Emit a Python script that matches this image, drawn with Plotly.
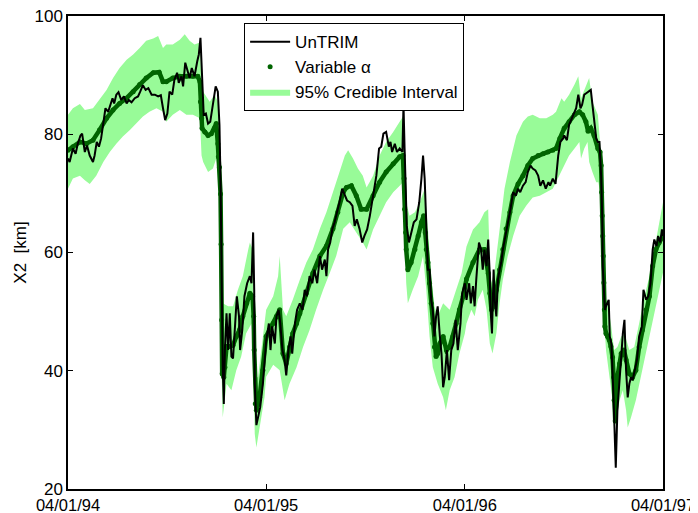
import pandas as pd
import plotly.graph_objects as go

# days counted from 04/01/94
untrim_day = [0, 3, 9, 14, 18, 23, 26, 31, 35, 40, 46, 49, 53, 57, 61, 65, 69, 74, 78, 82, 85, 89, 93, 98, 103, 108, 112, 117, 123, 129, 133, 138, 143, 148, 154, 160, 166, 171, 175, 179, 183, 187, 192, 196, 201, 204, 209, 212, 216, 220, 224, 228, 233, 238, 241, 244, 247, 250, 254, 258, 262, 267, 272, 276, 279, 281, 282, 284, 285, 287, 289, 292, 295, 298, 301, 304, 307, 311, 315, 317, 321, 325, 330, 335, 338, 341, 343, 344, 347, 350, 354, 359, 365, 370, 373, 376, 381, 384, 388, 391, 395, 399, 402, 406, 410, 413, 418, 422, 427, 432, 436, 440, 445, 450, 454, 459, 464, 468, 473, 476, 479, 483, 487, 491, 496, 500, 505, 510, 514, 519, 524, 528, 532, 537, 542, 546, 551, 556, 562, 568, 573, 577, 581, 586, 591, 594, 597, 602, 606, 611, 616, 618, 620, 622, 624, 628, 632, 637, 642, 647, 651, 654, 657, 660, 663, 666, 669, 672, 675, 678, 681, 685, 688, 691, 694, 698, 702, 706, 710, 714, 718, 723, 726, 731, 734, 739, 742, 746, 749, 752, 757, 761, 764, 767, 771, 774, 777, 778, 781, 784, 786, 789, 792, 795, 798, 801, 806, 810, 815, 820, 825, 829, 833, 838, 843, 847, 852, 856, 861, 866, 870, 875, 880, 885, 888, 893, 898, 903, 907, 912, 914, 919, 923, 928, 933, 936, 940, 944, 947, 951, 954, 958, 963, 966, 969, 973, 976, 979, 982, 984, 985, 987, 989, 993, 996, 998, 1001, 1005, 1008, 1009, 1012, 1016, 1019, 1022, 1025, 1028, 1031, 1034, 1037, 1040, 1043, 1048, 1052, 1057, 1060, 1065, 1069, 1073, 1077, 1080, 1084, 1087, 1091, 1094, 1096]
untrim_x2 = [75.9, 75.3, 77.6, 76.7, 78.4, 79.8, 80.1, 77.0, 78.1, 76.4, 75.3, 76.4, 78.7, 77.9, 79.3, 81.6, 84.4, 83.8, 85.0, 86.1, 85.2, 86.7, 87.1, 85.8, 86.4, 85.2, 85.8, 85.4, 86.1, 86.4, 87.2, 88.3, 87.5, 87.8, 86.7, 86.7, 86.4, 86.6, 84.4, 82.4, 83.5, 87.2, 86.7, 89.2, 90.4, 88.7, 89.8, 88.1, 92.1, 90.6, 89.5, 91.2, 89.8, 92.3, 93.5, 96.3, 88.4, 83.3, 83.5, 81.8, 82.1, 85.0, 88.1, 87.2, 81.6, 71.9, 63.4, 49.2, 40.6, 34.4, 43.5, 49.7, 43.5, 49.7, 42.4, 42.1, 46.3, 52.6, 49.2, 43.5, 46.9, 52.6, 54.8, 56.0, 54.8, 63.4, 53.7, 37.8, 30.8, 32.4, 33.8, 37.8, 45.0, 48.0, 43.5, 47.5, 44.6, 49.2, 50.3, 48.0, 43.5, 41.8, 39.2, 43.5, 45.8, 42.9, 48.0, 50.3, 51.4, 50.3, 53.7, 52.6, 56.0, 54.8, 57.1, 54.8, 59.4, 57.1, 58.8, 56.0, 60.5, 61.7, 64.0, 65.1, 66.8, 68.5, 70.8, 69.6, 68.8, 68.5, 67.9, 64.5, 65.6, 64.0, 61.7, 62.8, 63.9, 66.2, 69.6, 73.0, 77.6, 77.9, 80.1, 80.4, 77.9, 78.7, 77.0, 78.4, 77.0, 77.6, 77.0, 85.0, 77.6, 69.0, 64.5, 61.7, 63.4, 65.1, 65.6, 68.5, 72.5, 76.4, 72.5, 62.8, 57.1, 57.1, 52.0, 50.3, 45.8, 49.2, 50.9, 45.8, 42.9, 37.2, 38.9, 43.5, 38.4, 43.5, 44.6, 48.6, 43.5, 48.0, 53.1, 54.8, 52.0, 54.8, 51.4, 54.3, 50.9, 55.4, 61.7, 60.5, 57.1, 60.5, 57.7, 62.2, 56.0, 50.9, 46.3, 57.1, 52.0, 49.2, 55.4, 57.1, 58.3, 60.5, 62.8, 65.1, 67.3, 70.2, 69.6, 70.8, 70.2, 71.3, 71.9, 73.6, 74.7, 74.2, 73.9, 73.0, 71.3, 72.2, 70.8, 71.9, 71.3, 72.5, 71.6, 76.4, 78.7, 79.3, 79.8, 79.0, 81.6, 82.7, 83.8, 84.4, 86.7, 84.4, 85.0, 86.7, 86.9, 87.2, 87.5, 85.0, 82.1, 79.3, 78.7, 78.7, 73.0, 66.2, 57.7, 52.6, 50.3, 51.4, 52.0, 45.8, 44.6, 35.0, 27.6, 23.6, 33.3, 37.8, 42.3, 46.3, 48.6, 40.1, 35.5, 37.8, 38.9, 38.4, 39.5, 41.8, 45.8, 47.5, 53.7, 52.0, 52.6, 54.8, 60.5, 62.2, 61.1, 62.8, 61.7, 63.9, 62.8]

alpha_day = [0, 9, 22, 34, 46, 58, 71, 83, 95, 108, 120, 132, 144, 157, 168, 175, 181, 193, 206, 218, 230, 239, 243, 244, 246, 247, 252, 258, 264, 270, 273, 276, 277, 279, 281, 282, 283, 284, 287, 289, 292, 298, 304, 310, 316, 322, 329, 335, 340, 342, 343, 345, 347, 353, 359, 365, 371, 378, 384, 390, 396, 402, 408, 414, 421, 427, 439, 451, 464, 476, 488, 497, 507, 513, 522, 531, 540, 550, 562, 574, 586, 599, 611, 617, 619, 620, 622, 623, 626, 632, 639, 645, 651, 655, 658, 660, 663, 666, 669, 672, 675, 678, 681, 685, 691, 697, 703, 709, 715, 721, 728, 734, 746, 758, 767, 774, 777, 780, 784, 789, 795, 801, 807, 814, 820, 829, 838, 847, 856, 866, 875, 884, 893, 899, 906, 914, 923, 933, 942, 948, 954, 958, 963, 969, 976, 980, 982, 983, 984, 985, 986, 987, 988, 989, 991, 994, 997, 1000, 1003, 1005, 1006, 1008, 1010, 1012, 1016, 1019, 1024, 1028, 1034, 1040, 1046, 1052, 1058, 1065, 1071, 1077, 1083, 1089, 1096]
alpha_x2 = [77.3, 77.9, 78.7, 78.4, 79.0, 80.7, 82.7, 84.1, 85.2, 86.1, 87.2, 88.4, 89.5, 90.4, 90.5, 88.9, 88.9, 89.5, 89.8, 89.8, 89.8, 89.8, 88.9, 85.5, 82.7, 81.0, 80.4, 79.8, 80.1, 81.0, 81.8, 78.4, 76.2, 74.4, 69.9, 61.4, 48.6, 39.5, 38.9, 40.6, 44.1, 44.1, 44.3, 45.8, 46.9, 49.2, 51.4, 53.1, 52.6, 49.2, 43.5, 34.4, 33.3, 35.5, 40.1, 45.8, 46.9, 48.0, 49.2, 50.3, 42.9, 41.2, 44.0, 46.3, 48.0, 49.7, 53.1, 56.5, 59.4, 61.1, 64.0, 66.8, 70.2, 71.0, 71.3, 69.6, 67.3, 67.3, 69.6, 71.9, 73.6, 75.0, 76.2, 76.4, 72.5, 67.3, 63.4, 60.5, 57.1, 58.3, 60.5, 62.8, 65.1, 66.2, 63.4, 60.5, 58.3, 54.8, 51.4, 48.0, 44.0, 42.4, 42.9, 44.6, 45.8, 43.5, 44.0, 45.8, 48.0, 50.3, 52.6, 55.5, 58.3, 60.5, 60.5, 56.5, 53.1, 50.3, 50.9, 53.7, 57.1, 60.5, 64.0, 66.8, 69.6, 71.6, 73.0, 74.7, 75.9, 76.4, 76.7, 77.0, 77.3, 77.6, 79.3, 81.0, 82.1, 83.3, 83.8, 83.3, 82.1, 80.5, 81.0, 79.8, 77.6, 77.0, 74.7, 70.2, 66.2, 62.8, 59.4, 54.9, 50.3, 47.5, 46.3, 45.8, 45.2, 44.1, 42.3, 38.9, 35.0, 31.5, 35.0, 38.9, 41.2, 42.9, 43.5, 41.8, 39.5, 38.9, 40.1, 44.0, 46.9, 50.3, 52.6, 57.7, 60.5, 61.7, 62.8]

upper_day = [0, 9, 22, 31, 46, 58, 71, 83, 95, 108, 120, 132, 144, 157, 166, 175, 181, 193, 206, 215, 224, 233, 243, 246, 249, 261, 270, 276, 279, 282, 285, 295, 304, 313, 322, 332, 335, 340, 342, 344, 350, 359, 365, 378, 387, 390, 393, 396, 402, 414, 427, 439, 451, 464, 476, 488, 500, 510, 516, 525, 534, 543, 550, 562, 574, 586, 599, 611, 617, 620, 623, 629, 639, 648, 657, 663, 669, 675, 681, 691, 703, 715, 725, 734, 746, 758, 767, 774, 777, 780, 786, 795, 804, 814, 826, 838, 847, 856, 869, 881, 893, 899, 909, 914, 923, 933, 940, 945, 950, 956, 960, 966, 973, 976, 979, 982, 985, 987, 989, 994, 1000, 1006, 1012, 1019, 1025, 1034, 1043, 1052, 1062, 1071, 1080, 1089, 1096]
upper_x2 = [83.3, 84.4, 85.1, 84.1, 84.4, 85.8, 87.5, 89.5, 91.2, 92.6, 93.5, 94.6, 95.8, 96.2, 96.6, 94.6, 95.2, 95.2, 96.0, 96.9, 95.8, 95.2, 95.5, 88.4, 87.2, 85.5, 86.7, 85.5, 80.4, 64.0, 51.4, 50.9, 50.9, 53.7, 56.0, 60.5, 61.7, 60.5, 52.0, 38.9, 38.9, 46.3, 50.3, 52.6, 56.0, 59.4, 55.0, 50.3, 49.2, 52.0, 55.4, 58.3, 60.5, 64.0, 66.8, 70.2, 73.6, 76.4, 77.3, 75.9, 74.2, 73.0, 71.0, 73.0, 76.4, 78.7, 80.4, 82.1, 83.0, 76.4, 68.5, 66.2, 66.8, 68.5, 70.8, 63.9, 56.0, 50.9, 49.2, 51.4, 50.3, 53.7, 56.5, 61.0, 63.9, 65.1, 66.8, 67.3, 58.3, 54.8, 57.1, 63.9, 70.8, 75.3, 79.8, 82.1, 83.0, 83.3, 82.7, 82.7, 83.3, 83.8, 86.1, 85.5, 86.7, 88.4, 89.8, 86.1, 87.2, 88.6, 89.5, 85.5, 83.8, 83.3, 79.8, 76.4, 66.2, 56.0, 52.6, 51.4, 48.0, 43.5, 44.0, 45.8, 46.3, 43.5, 44.0, 48.0, 52.6, 56.0, 60.5, 65.1, 68.5]

lower_day = [0, 9, 22, 31, 40, 52, 65, 77, 89, 101, 114, 126, 138, 150, 163, 175, 181, 193, 206, 218, 230, 243, 246, 249, 258, 267, 273, 278, 281, 282, 285, 292, 301, 310, 319, 328, 338, 341, 344, 347, 353, 362, 365, 378, 390, 399, 408, 421, 433, 445, 457, 470, 482, 494, 507, 519, 531, 543, 550, 562, 574, 586, 599, 611, 617, 620, 623, 626, 635, 645, 654, 660, 666, 672, 681, 691, 696, 703, 712, 721, 731, 734, 743, 749, 755, 764, 771, 777, 782, 789, 795, 801, 810, 820, 832, 844, 856, 869, 881, 893, 903, 914, 923, 933, 942, 945, 951, 957, 960, 966, 973, 977, 981, 983, 985, 987, 991, 997, 1003, 1006, 1011, 1016, 1022, 1028, 1031, 1037, 1046, 1055, 1065, 1074, 1083, 1092, 1096]
lower_x2 = [70.8, 72.5, 73.0, 72.2, 71.6, 73.0, 75.3, 77.0, 78.4, 79.6, 80.7, 81.8, 83.0, 83.8, 84.4, 83.8, 82.1, 83.3, 84.1, 83.3, 83.3, 82.7, 76.4, 75.3, 73.6, 74.2, 75.9, 73.0, 60.5, 43.5, 32.1, 37.8, 36.7, 40.1, 42.4, 46.3, 48.0, 43.5, 29.3, 27.0, 30.4, 35.5, 39.0, 41.0, 40.1, 35.0, 37.8, 40.6, 44.0, 46.9, 50.3, 53.7, 56.5, 59.4, 64.0, 65.1, 63.4, 61.7, 60.5, 63.9, 66.2, 68.5, 70.2, 71.3, 71.9, 63.4, 54.8, 51.4, 53.7, 56.0, 59.4, 53.7, 45.8, 40.6, 37.8, 35.5, 33.3, 36.7, 38.9, 42.9, 46.3, 48.0, 50.3, 49.2, 52.0, 53.7, 50.3, 44.6, 42.9, 46.3, 51.4, 55.4, 59.4, 62.8, 66.2, 67.9, 69.3, 69.6, 70.2, 70.8, 72.5, 74.7, 76.4, 77.6, 78.7, 75.9, 77.6, 78.7, 75.3, 73.6, 71.9, 71.9, 69.6, 63.4, 54.9, 49.2, 43.5, 39.5, 35.0, 29.8, 32.1, 35.0, 36.7, 33.3, 30.4, 32.1, 35.0, 38.9, 43.5, 46.9, 50.9, 54.9, 56.6]

tick_dates = ["1994-04-01", "1995-04-01", "1996-04-01", "1997-04-01"]
tick_text = ["04/01/94", "04/01/95", "04/01/96", "04/01/97"]

start = pd.Timestamp("1994-04-01")
def to_dates(days):
    return [start + pd.Timedelta(days=d) for d in days]

band_x = to_dates(upper_day) + to_dates(lower_day)[::-1]
band_y = upper_x2 + lower_x2[::-1]

fig = go.Figure()

# credible interval band
fig.add_trace(go.Scatter(x=band_x, y=band_y, fill="toself", fillcolor="#98fb98",
                         line=dict(width=0), mode="lines", hoverinfo="skip",
                         name="95% Credible Interval", legendrank=3))

# variable alpha: thick line so the daily dots look continuous, dots for legend
fig.add_trace(go.Scatter(x=to_dates(alpha_day), y=alpha_x2, mode="lines",
                         line=dict(color="#006400", width=4.5), showlegend=False))
fig.add_trace(go.Scatter(x=to_dates(alpha_day), y=alpha_x2, mode="markers",
                         marker=dict(color="#006400", size=5),
                         name="Variable α", legendrank=2))

# untrim model
fig.add_trace(go.Scatter(x=to_dates(untrim_day), y=untrim_x2, mode="lines",
                         line=dict(color="black", width=2),
                         name="UnTRIM", legendrank=1))

axis_style = dict(showline=True, linecolor="black", linewidth=1.5, mirror="ticks",
                  ticks="inside", ticklen=5, tickcolor="black", showgrid=False,
                  zeroline=False, automargin=False, ticklabeloverflow="allow")

fig.update_xaxes(range=[tick_dates[0], tick_dates[-1]], tickvals=tick_dates,
                 ticktext=tick_text, tickfont=dict(size=16.5, color="black"),
                 **axis_style)
fig.update_yaxes(range=[20, 100], tickvals=[20, 40, 60, 80, 100],
                 tickfont=dict(size=17, color="black"),
                 title=dict(text="X2\u00a0 [km]", font=dict(size=17, color="black"), standoff=4),
                 **axis_style)

# page body adds 8px around the plot, so the figure is 8px smaller than the window
fig.update_layout(
    width=690, height=505,
    margin=dict(l=60, r=35, t=8, b=24),
    paper_bgcolor="white", plot_bgcolor="white",
    font=dict(family="Liberation Sans, Arial, sans-serif", color="black"),
    legend=dict(x=0.296, y=0.985, xanchor="left", yanchor="top",
                bgcolor="white", bordercolor="black", borderwidth=1,
                font=dict(size=17), itemwidth=40, tracegroupgap=0),
)

fig.write_html("out.html")
